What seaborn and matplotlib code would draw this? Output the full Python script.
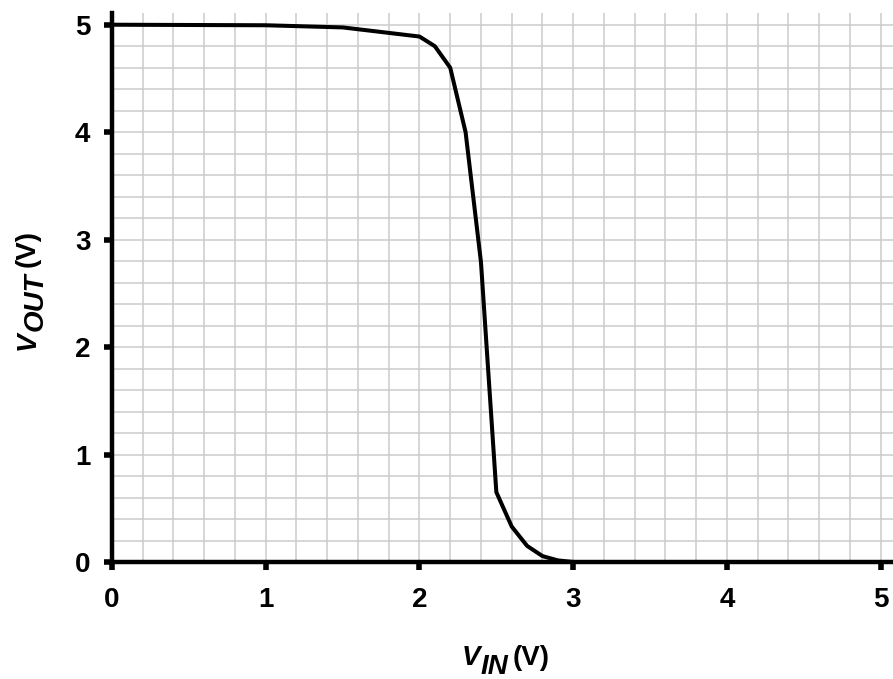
import matplotlib
matplotlib.use("Agg")
import matplotlib.pyplot as plt
from matplotlib.ticker import MultipleLocator
from matplotlib.transforms import IdentityTransform
import seaborn as sns
import pandas as pd

v_in = [0.0, 1.0, 1.5, 2.0, 2.1, 2.2, 2.3, 2.4, 2.5, 2.6, 2.7, 2.8, 2.9, 3.0]
v_out = [5.0, 4.995, 4.975, 4.89, 4.80, 4.60, 4.00, 2.79, 0.65, 0.33, 0.15, 0.055, 0.015, 0.0]
x_ticks = [0, 1, 2, 3, 4, 5]
y_ticks = [0, 1, 2, 3, 4, 5]

sns.set_style("white")
plt.rcParams['font.family'] = ['Liberation Sans', 'DejaVu Sans']
plt.rcParams['text.color'] = 'black'

df = pd.DataFrame({"vin": v_in, "vout": v_out})

fig = plt.figure(figsize=(8.93, 6.79), dpi=100)
ax = fig.add_axes([0.1254, 0.1723, 0.8746, 0.8087])

sns.lineplot(data=df, x="vin", y="vout", ax=ax, color="black", linewidth=2.9,
             sort=False, zorder=3)

ax.set_xlim(0, 5.08)
ax.set_ylim(0, 5.11)
ax.set_xticks(x_ticks)
ax.set_yticks(y_ticks)
ax.set_xticklabels([str(t) for t in x_ticks], fontsize=20, fontweight="bold", color="black")
ax.set_yticklabels([str(t) for t in y_ticks], fontsize=20, fontweight="bold", color="black")
ax.xaxis.set_minor_locator(MultipleLocator(0.2))
ax.yaxis.set_minor_locator(MultipleLocator(0.2))
ax.grid(True, which="both", color="#cccccc", linewidth=1.1, zorder=0)
ax.set_axisbelow(True)
ax.tick_params(which="major", direction="out", length=6, width=4, color="black",
               bottom=True, left=True)
ax.tick_params(axis="x", which="major", pad=12)
ax.tick_params(axis="y", which="major", pad=9.5)
ax.tick_params(which="minor", length=0)

for s in ["top", "right"]:
    ax.spines[s].set_visible(False)
for s in ["left", "bottom"]:
    ax.spines[s].set_linewidth(3.2)
    ax.spines[s].set_color("black")
    ax.spines[s].set_zorder(4)

ax.set_xlabel("")
ax.set_ylabel("")

# Axis labels built from pieces: italic V, lowered italic subscript, bold "(V)"
LSIZE = 20
it = dict(fontsize=LSIZE, fontweight="bold", fontstyle="italic", color="black")
rm = dict(fontsize=LSIZE, fontweight="bold", color="black")
ident = IdentityTransform()
fig.canvas.draw()
renderer = fig.canvas.get_renderer()

def build_label(pieces, center, baseline, vertical):
    texts = []
    for txt, props, drop in pieces:
        if vertical:
            t = fig.text(0, 0, txt, transform=ident, rotation=90, rotation_mode="anchor",
                         ha="left", va="baseline", **props)
        else:
            t = fig.text(0, 0, txt, transform=ident, ha="left", va="baseline", **props)
        texts.append((t, drop))
    sizes = []
    for t, drop in texts:
        bb = t.get_window_extent(renderer)
        sizes.append(bb.height if vertical else bb.width)
    gaps = [0, 0, 5]
    total = sum(sizes) + sum(gaps[:len(sizes)])
    pos = center - total / 2
    for i, (t, drop) in enumerate(texts):
        pos += gaps[i]
        if vertical:
            t.set_position((baseline + drop, pos))
        else:
            t.set_position((pos, baseline - drop))
        pos += sizes[i]

build_label([("V", it, 0), ("IN", it, 9), ("(V)", rm, 0)], center=506, baseline=14, vertical=False)
build_label([("V", it, 0), ("OUT", it, 8), ("(V)", rm, 0)], center=389, baseline=35, vertical=True)

fig.savefig("out.png", dpi=100)
